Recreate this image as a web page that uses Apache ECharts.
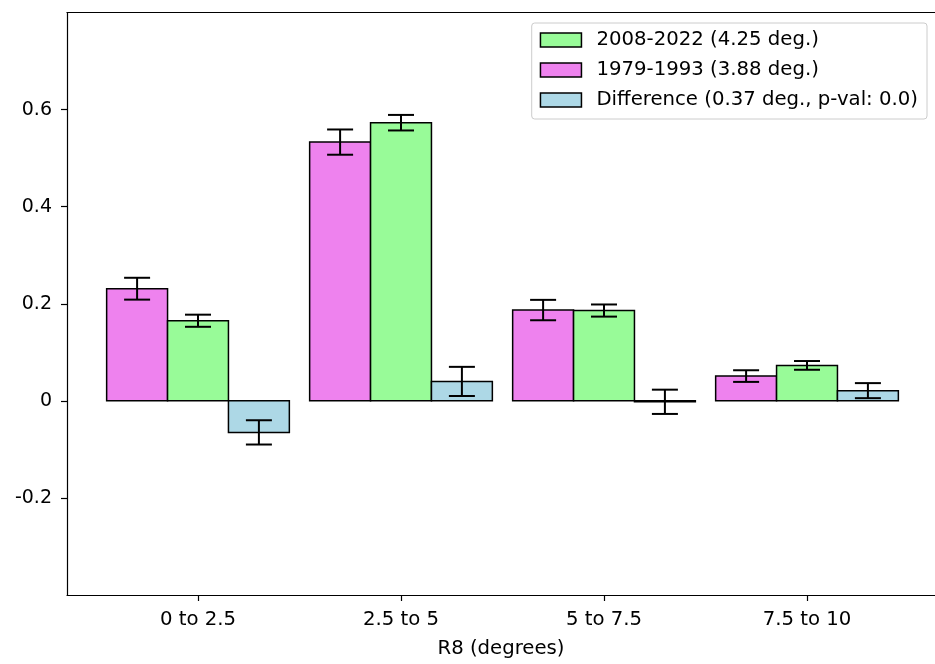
<!DOCTYPE html>
<html>
<head>
<meta charset="utf-8">
<script src="https://cdn.jsdelivr.net/npm/echarts@6/dist/echarts.min.js"></script>
<style>
  html, body { margin: 0; padding: 0; background: #fff; }
  #chart { width: 935px; height: 664px; }
</style>
</head>
<body>
<div id="chart"></div>
<script>
// R8 bins
const categories = ['0 to 2.5', '2.5 to 5', '5 to 7.5', '7.5 to 10'];

// 2008-2022 period
const recentValues = [0.165, 0.573, 0.186, 0.073];
const recentErr = [0.0125, 0.016, 0.0125, 0.009];

// 1979-1993 period
const earlyValues = [0.231, 0.533, 0.187, 0.051];
const earlyErr = [0.0225, 0.026, 0.021, 0.012];

// difference (recent - early)
const diffValues = [-0.065, 0.040, -0.002, 0.021];
const diffErr = [0.025, 0.030, 0.025, 0.0155];

const yTicks = [-0.2, 0, 0.2, 0.4, 0.6];
const xTicks = [0, 1, 2, 3];

const FONT = 'DejaVu Sans';
const FS = 19.7;
const BAR_W = 0.3;

function barSeries(name, color, offset, values, errs) {
  return {
    name: name,
    type: 'custom',
    itemStyle: { color: color, borderColor: '#000', borderWidth: 1.5 },
    data: values.map((v, i) => [i, v, errs[i]]),
    encode: { x: 0, y: 1 },
    renderItem: (params, api) => {
      const i = api.value(0);
      const v = api.value(1);
      const e = api.value(2);
      const p0 = api.coord([i + offset - BAR_W / 2, 0]);
      const p1 = api.coord([i + offset + BAR_W / 2, v]);
      const cx = api.coord([i + offset, 0])[0];
      const yHi = api.coord([0, v + e])[1];
      const yLo = api.coord([0, v - e])[1];
      const cap = 13;
      const lineStyle = { stroke: '#000', lineWidth: 2 };
      return {
        type: 'group',
        children: [
          {
            type: 'rect',
            shape: {
              x: p0[0],
              y: Math.min(p0[1], p1[1]),
              width: p1[0] - p0[0],
              height: Math.abs(p1[1] - p0[1])
            },
            style: { fill: color, stroke: '#000', lineWidth: 1.5 }
          },
          { type: 'line', shape: { x1: cx, y1: yHi, x2: cx, y2: yLo }, style: lineStyle },
          { type: 'line', shape: { x1: cx - cap, y1: yHi, x2: cx + cap, y2: yHi }, style: lineStyle },
          { type: 'line', shape: { x1: cx - cap, y1: yLo, x2: cx + cap, y2: yLo }, style: lineStyle }
        ]
      };
    }
  };
}

const chart = echarts.init(document.getElementById('chart'), null, { renderer: 'canvas' });

const NAME_RECENT = '2008-2022 (4.25 deg.)';
const NAME_EARLY = '1979-1993 (3.88 deg.)';
const NAME_DIFF = 'Difference (0.37 deg., p-val: 0.0)';

chart.setOption({
  animation: false,
  backgroundColor: '#fff',
  textStyle: { fontFamily: FONT },
  grid: { left: 67, right: 0, top: 12.5, bottom: 68 },
  legend: {
    orient: 'vertical',
    right: 8,
    top: 23,
    padding: [6, 9, 8, 8],
    itemGap: 8,
    itemWidth: 41,
    itemHeight: 14,
    backgroundColor: '#fff',
    borderColor: '#cccccc',
    borderWidth: 1,
    borderRadius: 3,
    textStyle: { fontFamily: FONT, fontSize: FS, color: '#000', lineHeight: 22, padding: [0, 0, 0, 10] },
    data: [
      { name: NAME_RECENT, icon: 'rect', itemStyle: { color: '#98fb98', borderColor: '#000', borderWidth: 1.5 } },
      { name: NAME_EARLY, icon: 'rect', itemStyle: { color: '#ee82ee', borderColor: '#000', borderWidth: 1.5 } },
      { name: NAME_DIFF, icon: 'rect', itemStyle: { color: '#add8e6', borderColor: '#000', borderWidth: 1.5 } }
    ]
  },
  xAxis: [
    {
      type: 'value',
      min: -0.6453,
      max: 3.6305,
      name: 'R8 (degrees)',
      nameLocation: 'middle',
      nameGap: 44,
      nameTextStyle: { fontFamily: FONT, fontSize: FS, color: '#000' },
      axisLine: { show: true, onZero: false, lineStyle: { color: '#000', width: 1.2 } },
      axisTick: { show: true, length: 6, customValues: xTicks, lineStyle: { color: '#000', width: 1.2 } },
      axisLabel: {
        customValues: xTicks,
        margin: 15,
        fontFamily: FONT,
        fontSize: FS,
        color: '#000',
        formatter: (v) => categories[Math.round(v)] ?? ''
      },
      splitLine: { show: false }
    },
    {
      type: 'value',
      position: 'top',
      min: -0.6453,
      max: 3.6305,
      axisLine: { show: true, onZero: false, lineStyle: { color: '#000', width: 1.2 } },
      axisTick: { show: false },
      axisLabel: { show: false },
      splitLine: { show: false }
    }
  ],
  yAxis: {
    type: 'value',
    min: -0.4,
    max: 0.8,
    interval: 0.2,
    axisLine: { show: true, onZero: false, lineStyle: { color: '#000', width: 1.2 } },
    axisTick: { show: true, length: 6, customValues: yTicks, lineStyle: { color: '#000', width: 1.2 } },
    axisLabel: {
      customValues: yTicks,
      margin: 15,
      fontFamily: FONT,
      fontSize: 19,
      color: '#000',
      formatter: (v) => String(Math.round(v * 10) / 10)
    },
    splitLine: { show: false }
  },
  series: [
    barSeries(NAME_EARLY, '#ee82ee', -BAR_W, earlyValues, earlyErr),
    barSeries(NAME_RECENT, '#98fb98', 0, recentValues, recentErr),
    barSeries(NAME_DIFF, '#add8e6', BAR_W, diffValues, diffErr)
  ]
});
</script>
</body>
</html>
